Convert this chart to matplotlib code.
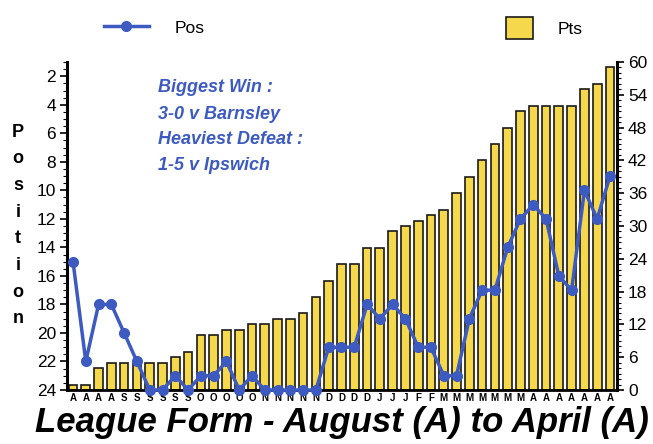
import matplotlib
matplotlib.use("Agg")
import matplotlib.pyplot as plt
from matplotlib.ticker import MultipleLocator
from matplotlib.lines import Line2D
from matplotlib.patches import Patch

plt.rcParams['font.family'] = ['Liberation Sans', 'DejaVu Sans']

months = ["A"] * 4 + ["S"] * 6 + ["O"] * 5 + ["N"] * 5 + ["D"] * 4 + ["J"] * 3 + ["F"] * 2 + ["M"] * 7 + ["A"] * 7
points = [1, 1, 4, 5, 5, 5, 5, 5, 6, 7,
          10, 10, 11, 11, 12, 12, 13, 13, 14, 17,
          20, 23, 23, 26, 26, 29, 30, 31, 32, 33,
          36, 39, 42, 45, 48, 51, 52, 52, 52, 52,
          55, 56, 59]
position = [15, 22, 18, 18, 20, 22, 24, 24, 23, 24,
            23, 23, 22, 24, 23, 24, 24, 24, 24, 24,
            21, 21, 21, 18, 19, 18, 19, 21, 21, 23,
            23, 19, 17, 17, 14, 12, 11, 12, 16, 17,
            10, 12, 9]

blue = "#3c5ac0"
yellow = "#f5d84c"

fig = plt.figure(figsize=(6.53, 4.44), dpi=100)
ax = fig.add_axes([67 / 653, 54 / 444, 550 / 653, 328 / 444])
x = list(range(len(points)))

ax.bar(x, points, width=0.68, color=yellow, edgecolor="#1a1a1a", linewidth=1.2, zorder=2)
ax.set_ylim(0, 60)
ax.set_xlim(-0.47, len(points) - 0.45)
ax.set_xticks(x)
ax.set_xticklabels(months, fontsize=7, fontweight='bold')
ax.tick_params(axis='x', length=0, pad=2)

ax2 = ax.twinx()
ax2.plot(x, position, color=blue, linewidth=2.5, marker='o', markersize=7, zorder=5, clip_on=False)
ax2.set_ylim(24, 1)

# right axis: points
ax.yaxis.tick_right()
ax.yaxis.set_major_locator(MultipleLocator(6))
ax.yaxis.set_minor_locator(MultipleLocator(1))
ax.tick_params(axis='y', which='both', left=False, labelleft=False, right=True, labelright=True)
ax.tick_params(axis='y', which='major', length=5, width=1.2, labelsize=12.5, pad=3)
ax.tick_params(axis='y', which='minor', length=3, width=0.8)
for s in ['top', 'left']:
    ax.spines[s].set_visible(False)
ax.spines['right'].set_linewidth(2.2)
ax.spines['bottom'].set_linewidth(2.0)

# left axis: position
ax2.yaxis.tick_left()
ax2.yaxis.set_label_position('left')
ax2.set_yticks(range(2, 25, 2))
ax2.yaxis.set_minor_locator(MultipleLocator(0.5))
ax2.tick_params(axis='y', which='both', right=False, labelright=False, left=True, labelleft=True)
ax2.tick_params(axis='y', which='major', length=5, width=1.2, labelsize=12.5, pad=3)
ax2.tick_params(axis='y', which='minor', length=3, width=0.8)
for s in ['top', 'right', 'bottom']:
    ax2.spines[s].set_visible(False)
ax2.spines['left'].set_linewidth(2.2)

# annotation
ann = ["Biggest Win :", "3-0 v Barnsley", "Heaviest Defeat :", "1-5 v Ipswich"]
for i, t in enumerate(ann):
    fig.text(158 / 653, 1 - (88 + i * 26) / 444, t, color=blue, fontsize=13,
             fontweight='bold', fontstyle='italic', va='center', ha='left')

# vertical y label
for i, ch in enumerate("Position"):
    fig.text(18 / 653, 1 - (132 + i * 26.7) / 444, ch, fontsize=13, fontweight='bold',
             ha='center', va='center')

# x title
fig.text(342 / 653, 1 - 422 / 444, "League Form - August (A) to April (A)", fontsize=25,
         fontweight='bold', fontstyle='italic', ha='center', va='center')

# legends
h1 = Line2D([], [], color=blue, linewidth=2.5, marker='o', markersize=7)
leg1 = fig.legend([h1], ["Pos"], loc='center left', bbox_to_anchor=(88 / 653, 1 - 28 / 444),
                  frameon=False, fontsize=12.5, handlelength=2.6, handletextpad=1.5)
h2 = Patch(facecolor=yellow, edgecolor="#1a1a1a", linewidth=1.2)
leg2 = fig.legend([h2], ["Pts"], loc='center left', bbox_to_anchor=(490 / 653, 1 - 28 / 444),
                  frameon=False, fontsize=12.5, handlelength=1.6, handleheight=1.6, handletextpad=1.4)

fig.savefig("out.png", dpi=100)
